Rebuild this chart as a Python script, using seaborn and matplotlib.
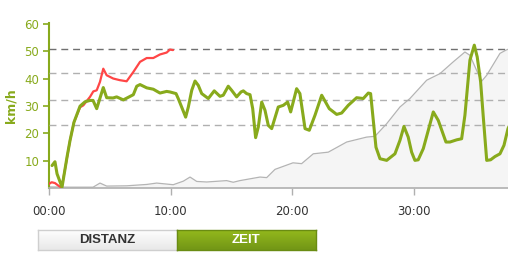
import numpy as np
import pandas as pd
import matplotlib
matplotlib.use("Agg")
import matplotlib.pyplot as plt
import seaborn as sns
from matplotlib.colors import LinearSegmentedColormap

# ---- data (minutes, km/h) ----
green_t = [0.25, 0.49, 0.66, 1.07, 1.48, 1.73, 2.05, 2.55, 2.96, 3.37, 3.62, 3.92, 4.46, 4.74,
           5.26, 5.56, 6.11, 6.93, 7.21, 7.48, 8.03, 8.57, 9.12, 9.67, 9.94, 10.44, 10.62,
           10.90, 11.23, 11.45, 11.73, 12.00, 12.27, 12.55, 13.09, 13.58, 14.05, 14.32, 14.73,
           15.01, 15.42, 15.78, 15.97, 16.24, 16.52, 16.74, 16.98, 17.20, 17.48, 17.75, 18.02,
           18.30, 18.84, 19.25, 19.61, 19.86, 20.35, 20.62, 21.04, 21.39, 21.86, 22.41, 23.03,
           23.64, 24.05, 24.59, 25.28, 25.83, 26.24, 26.43, 26.87, 27.20, 27.75, 28.43, 28.84,
           29.17, 29.52, 29.80, 30.07, 30.34, 30.76, 31.17, 31.58, 31.99, 32.62, 32.95, 33.50,
           33.91, 34.18, 34.59, 34.95, 35.19, 35.47, 35.69, 35.97, 36.29, 36.65, 37.06, 37.39,
           37.72, 38.0]
green_v = [8.2, 9.6, 5.2, 0.3, 11.3, 17.4, 24.0, 29.9, 31.5, 32.0, 32.0, 29.0, 36.7, 33.0,
           32.9, 33.3, 32.2, 34.1, 37.2, 37.8, 36.6, 36.1, 34.7, 35.3, 35.1, 34.5, 32.7,
           29.6, 25.9, 29.6, 35.7, 39.1, 37.5, 34.5, 32.7, 35.5, 33.5, 33.9, 37.2,
           35.7, 33.3, 35.1, 35.5, 34.5, 34.1, 29.0, 18.4, 22.3, 31.4, 28.4, 22.9,
           21.7, 29.6, 30.2, 31.4, 27.8, 36.3, 34.5, 21.7, 21.1, 26.6, 33.9, 29.0,
           26.9, 27.4, 30.2, 33.0, 32.7, 34.7, 34.5, 14.9, 10.7, 10.1, 12.5, 17.4,
           22.5, 18.6, 13.1, 10.1, 10.3, 14.4, 21.1, 27.8, 24.7, 16.8, 16.8, 17.6,
           18.0, 26.6, 46.7, 52.2, 47.9, 38.8, 25.9, 10.1, 10.3, 11.5, 12.5, 15.6,
           21.7, 24.5]

red_t = [0.0, 0.22, 0.49, 0.76, 1.04, 1.40, 1.73, 2.05, 2.55, 2.82, 3.37, 3.64, 3.92, 4.19,
         4.46, 4.74, 5.28, 5.83, 6.38, 6.93, 7.48, 8.03, 8.57, 9.12, 9.67, 9.94, 10.19]
red_v = [1.5, 2.1, 1.8, 0.9, 0.1, 9.0, 17.4, 24.0, 29.5, 30.2, 33.3, 35.3, 35.7, 38.8,
         43.6, 41.2, 40.0, 39.4, 39.0, 42.4, 46.1, 47.5, 47.5, 48.8, 49.5, 50.6, 50.4]

alt_t = [0.0, 1.73, 3.62, 4.19, 4.74, 6.38, 8.03, 8.85, 10.21, 11.04, 11.59, 12.14, 12.96,
         14.60, 15.14, 15.69, 17.34, 17.89, 18.57, 20.05, 20.76, 21.72, 22.95, 24.46, 26.10,
         26.79, 27.75, 28.84, 29.66, 31.04, 32.13, 33.22, 34.18, 34.59, 35.14, 35.55, 35.97,
         37.06, 37.56, 37.9]
alt_v = [0.4, 0.3, 0.3, 1.8, 0.7, 0.8, 1.3, 1.8, 1.2, 2.5, 4.0, 2.4, 2.2,
         2.7, 2.1, 2.7, 4.0, 3.8, 6.8, 9.2, 8.9, 12.5, 13.1, 16.8, 18.6,
         18.9, 23.5, 29.6, 32.7, 39.4, 41.8, 46.1, 49.7, 48.5, 43.0, 39.0, 41.2,
         49.2, 50.4, 51.0]

ref_lines = [50.8, 41.9, 32.3, 23.0]
x_ticks = [0, 10, 20, 30]
x_labels = ["00:00", "10:00", "20:00", "30:00"]
y_ticks = [10, 20, 30, 40, 50, 60]
buttons = ["DISTANZ", "ZEIT"]

GREEN = "#88aa1c"
RED = "#ff4646"

sns.set_theme(style="white")
plt.rcParams["font.family"] = ["DejaVu Sans"]

fig = plt.figure(figsize=(5.08, 2.67), dpi=100)
ax = fig.add_axes([49 / 508, 1 - 188 / 267, 1 - 49 / 508, (188 - 23) / 267])

alt_df = pd.DataFrame({"t": alt_t, "v": alt_v})
ax.fill_between(alt_df["t"], 0, alt_df["v"], color="#f5f5f5", zorder=1, linewidth=0)
sns.lineplot(data=alt_df, x="t", y="v", ax=ax, color="#b4b4b4", linewidth=0.9, zorder=2)

for i, r in enumerate(ref_lines):
    ax.axhline(r, color="#707070" if i == 0 else "#b0b0b0", linewidth=1.0,
               dashes=(5, 3.5), zorder=3)

sns.lineplot(data=pd.DataFrame({"t": red_t, "v": red_v}), x="t", y="v", ax=ax,
             color=RED, linewidth=1.6, zorder=5)
sns.lineplot(data=pd.DataFrame({"t": green_t, "v": green_v}), x="t", y="v", ax=ax,
             color=GREEN, linewidth=2.2, zorder=6)

ax.set_xlim(0, 37.72)
ax.set_ylim(0, 60.3)
ax.set_xticks(x_ticks)
ax.set_xticklabels(x_labels)
ax.set_yticks(y_ticks)
ax.set_xlabel("")
ax.set_ylabel("km/h", color=GREEN, fontsize=9, fontweight="bold", labelpad=5)

for s in ["top", "right"]:
    ax.spines[s].set_visible(False)
ax.spines["left"].set_color(GREEN)
ax.spines["left"].set_linewidth(1.5)
ax.spines["bottom"].set_color("#b0b0b0")
ax.spines["bottom"].set_linewidth(1.2)
ax.tick_params(axis="y", colors=GREEN, labelcolor=GREEN, labelsize=8.5, length=4,
               width=1.2, direction="out", left=True, pad=3)
ax.tick_params(axis="x", colors="#b0b0b0", labelcolor="#333333", labelsize=8.5, length=5,
               width=1.0, direction="out", bottom=True, pad=7)

# buttons
grad = np.linspace(0, 1, 50).reshape(-1, 1)
specs = [
    (38, 176.5, ["#ffffff", "#e8e8e8"], "#cfcfcf", "#333333"),
    (176.5, 315.5, ["#95ba1d", "#729616"], "#6a8c12", "#ffffff"),
]
for label, (x0, x1, cols, edge, tc) in zip(buttons, specs):
    bax = fig.add_axes([x0 / 508, 1 - 250 / 267, (x1 - x0) / 508, 20 / 267])
    cmap = LinearSegmentedColormap.from_list("g", cols)
    bax.imshow(grad, aspect="auto", cmap=cmap, extent=[0, 1, 0, 1], origin="upper")
    bax.set_xticks([])
    bax.set_yticks([])
    for s in bax.spines.values():
        s.set_color(edge)
        s.set_linewidth(1.0)
    bax.text(0.5, 0.5, label, ha="center", va="center", color=tc, fontsize=9.5,
             fontweight="bold", family=["Liberation Sans"], transform=bax.transAxes)

fig.savefig("out.png", dpi=100)
